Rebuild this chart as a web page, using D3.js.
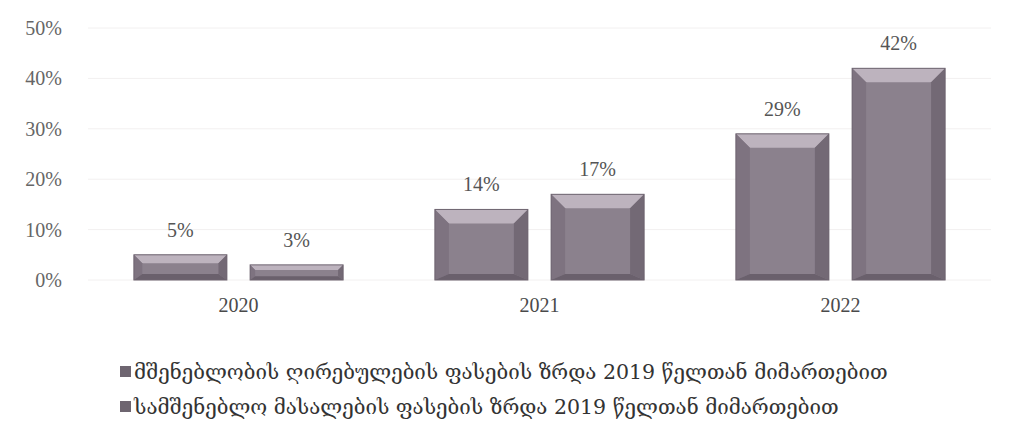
<!DOCTYPE html>
<html>
<head>
<meta charset="utf-8">
<script src="https://cdn.jsdelivr.net/npm/d3@7"></script>
<style>
  body { margin: 0; background: #fff; }
  svg { display: block; font-family: "Liberation Serif", "DejaVu Serif", serif; }
</style>
</head>
<body>
<script>
const years = ['2020', '2021', '2022'];
const seriesNames = [
  'მშენებლობის ღირებულების ფასების ზრდა 2019 წელთან მიმართებით',
  'სამშენებლო მასალების ფასების ზრდა 2019 წელთან მიმართებით'
];
const costGrowth = [5, 14, 29];
const materialGrowth = [3, 17, 42];
const yTicks = [0, 10, 20, 30, 40, 50];

const w = 1012, h = 432;
const margin = { top: 28, right: 21, bottom: 152, left: 88 };

const svg = d3.select('body').append('svg')
  .attr('width', w)
  .attr('height', h);

const x0 = d3.scaleBand()
  .domain(years)
  .range([margin.left, w - margin.right])
  .padding(0);

const x1 = d3.scaleBand()
  .domain([0, 1])
  .range([0, x0.bandwidth()])
  .paddingInner(0.2)
  .paddingOuter(0.395);

const y = d3.scaleLinear()
  .domain([0, 50])
  .range([h - margin.bottom, margin.top]);

// faint gridlines
svg.append('g')
  .selectAll('line')
  .data(yTicks)
  .enter()
  .append('line')
  .attr('x1', margin.left)
  .attr('x2', w - margin.right)
  .attr('y1', d => y(d))
  .attr('y2', d => y(d))
  .attr('stroke', '#f2f0f0')
  .attr('stroke-width', 1);

// y axis labels
const yAxis = d3.axisLeft(y).tickValues(yTicks).tickFormat(d => d + '%').tickSize(0).tickPadding(0);
svg.append('g')
  .attr('transform', `translate(${margin.left - 26}, 0)`)
  .call(yAxis)
  .call(g => g.select('.domain').remove())
  .selectAll('text')
  .attr('font-size', 20)
  .attr('font-family', '"Liberation Serif", serif')
  .attr('fill', '#666');

// x axis labels
const xAxis = d3.axisBottom(x0).tickSize(0).tickPadding(0);
svg.append('g')
  .attr('transform', `translate(0, ${y(0) + 18})`)
  .call(xAxis)
  .call(g => g.select('.domain').remove())
  .selectAll('text')
  .attr('font-size', 20)
  .attr('font-family', '"Liberation Serif", serif')
  .attr('fill', '#4a4a4a');

const rows = [];
years.forEach((yr, i) => {
  rows.push({ year: yr, s: 0, v: costGrowth[i] });
  rows.push({ year: yr, s: 1, v: materialGrowth[i] });
});

// beveled bars
const bars = svg.append('g').selectAll('g.bar')
  .data(rows)
  .enter()
  .append('g')
  .attr('class', 'bar');

bars.each(function (d) {
  const g = d3.select(this);
  const bx = x0(d.year) + x1(d.s);
  const bw = x1.bandwidth();
  const top = y(d.v);
  const bot = y(0);
  const bh = bot - top;
  const b = Math.min(14, bh / 3);
  const bb = Math.min(6, bh / 4);
  const l = bx, r = bx + bw;
  const pts = a => a.map(p => p.join(',')).join(' ');
  // face
  g.append('rect')
    .attr('x', l).attr('y', top).attr('width', bw).attr('height', bh)
    .attr('fill', '#8b818d');
  // top bevel (highlight)
  g.append('polygon')
    .attr('points', pts([[l, top], [r, top], [r - b, top + b], [l + b, top + b]]))
    .attr('fill', '#bdb3be');
  // left bevel
  g.append('polygon')
    .attr('points', pts([[l, top], [l + b, top + b], [l + b, bot - bb], [l, bot]]))
    .attr('fill', '#7e7380');
  // right bevel
  g.append('polygon')
    .attr('points', pts([[r, top], [r, bot], [r - b, bot - bb], [r - b, top + b]]))
    .attr('fill', '#736975');
  // bottom bevel
  g.append('polygon')
    .attr('points', pts([[l, bot], [l + b, bot - bb], [r - b, bot - bb], [r, bot]]))
    .attr('fill', '#6a606c');
  g.append('rect')
    .attr('x', l).attr('y', top).attr('width', bw).attr('height', bh)
    .attr('fill', 'none').attr('stroke', '#6e6470').attr('stroke-width', 1);

  g.append('text')
    .attr('x', l + bw / 2)
    .attr('y', top - 18)
    .attr('text-anchor', 'middle')
    .attr('font-size', 20)
    .attr('fill', '#555')
    .text(d.v + '%');
});

// legend
const legend = svg.append('g')
  .selectAll('g')
  .data(seriesNames)
  .enter()
  .append('g')
  .attr('transform', (d, i) => `translate(120, ${372 + i * 35})`);

legend.append('rect')
  .attr('x', 0).attr('y', -6)
  .attr('width', 11).attr('height', 11)
  .attr('fill', '#6e6570');

legend.append('text')
  .attr('x', 14)
  .attr('y', 0)
  .attr('dy', '0.35em')
  .attr('font-size', 20.5)
  .attr('font-family', '"DejaVu Serif", "DejaVu Sans", serif')
  .attr('fill', '#333')
  .text(d => d);
</script>
</body>
</html>
